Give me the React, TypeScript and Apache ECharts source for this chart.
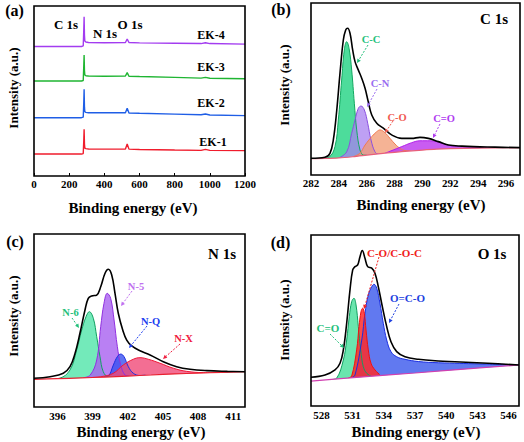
import React, { useEffect, useRef } from 'react';
import * as echarts from 'echarts';

const FONT = "'Liberation Serif', 'Times New Roman', serif";

// ---------- Panel (a): survey spectra ----------
const surveyEnergy = [0, 270, 280, 283, 285, 287, 289, 295, 310, 400, 520, 530, 540, 600, 800, 950, 975, 1000, 1200];
const ek4 = [76.2, 76.2, 76.5, 85.9, 93.7, 82.9, 79.4, 78.8, 78.5, 78.4, 78.5, 80.6, 78.5, 78.3, 78.1, 77.9, 78.4, 77.9, 77.6];
const ek3 = [55.9, 55.9, 56.2, 64.5, 71.2, 62.0, 59.4, 59.0, 58.8, 58.7, 58.8, 60.8, 58.7, 58.5, 58.0, 57.6, 58.0, 57.5, 57.2];
const ek2 = [34.3, 34.3, 34.6, 43.0, 51.0, 40.5, 37.8, 37.4, 37.2, 37.3, 37.2, 39.8, 37.1, 36.9, 36.4, 36.0, 36.5, 35.9, 35.5];
const ek1 = [12.9, 12.9, 13.2, 20.5, 27.5, 18.8, 16.4, 16.1, 15.9, 15.8, 15.9, 18.8, 15.8, 15.6, 15.3, 15.1, 15.7, 15.1, 14.9];
const surveyNames = ['EK-4', 'EK-3', 'EK-2', 'EK-1'];
const surveyTicks = [0, 200, 400, 600, 800, 1000, 1200];

// ---------- Panel (b): C 1s ----------
const c1sTicks = [282, 284, 286, 288, 290, 292, 294, 296];
const c1sEnvelope: number[][] = [[282, 9.7], [283, 10.3], [283.36, 12.6], [283.6, 20.3], [283.85, 37.8], [284.08, 59.1], [284.32, 78.5], [284.49, 84.3], [284.63, 85.3], [284.8, 82.4], [284.99, 72.7], [285.16, 65.9], [285.4, 61.0], [285.64, 56.2], [285.88, 50.4], [286.11, 42.6], [286.36, 34.9], [286.72, 30.1], [287.19, 27.2], [287.79, 23.3], [288.51, 21.3], [289.23, 21.3], [289.82, 21.9], [290.42, 21.3], [291.14, 19.4], [291.86, 17.4], [292.84, 16.8], [295.2, 16.2], [297, 15.9]];
const c1sBackground: number[][] = [[282, 9.5], [283, 9.6], [284, 9.9], [285, 10.6], [286, 11.5], [287, 12.4], [288, 13.2], [289, 13.9], [290, 14.5], [291, 15.0], [292, 15.3], [294, 15.6], [297, 15.9]];
const c1sCC: number[][] = [[282.8, 9.6], [283.3, 10.4], [283.72, 16.5], [283.96, 32.0], [284.2, 55.2], [284.39, 72.7], [284.56, 77.5], [284.73, 73.7], [284.92, 61.0], [285.11, 41.7], [285.28, 26.2], [285.52, 14.5], [285.75, 11.6], [286.0, 11.5]];
const c1sCN: number[][] = [[284.0, 9.9], [284.56, 13.4], [284.92, 24.2], [285.16, 32.0], [285.4, 38.8], [285.59, 40.1], [285.83, 37.8], [286.07, 30.1], [286.31, 20.3], [286.59, 13.5], [286.83, 12.2], [287.1, 12.3]];
const c1sCO: number[][] = [[285.0, 10.6], [285.5, 12.6], [285.88, 17.4], [286.36, 22.3], [286.72, 25.2], [286.95, 26.2], [287.31, 24.6], [287.67, 21.3], [288.03, 18.0], [288.39, 15.5], [288.75, 14.2], [289.2, 14.0]];
const c1sCdO: number[][] = [[287.3, 12.6], [288.51, 16.5], [289.23, 18.8], [289.82, 19.9], [290.54, 19.9], [291.26, 18.8], [292.1, 16.9], [292.84, 16.5], [294.04, 16.0], [295.57, 15.8], [297, 15.9]];

// ---------- Panel (c): N 1s ----------
const n1sTicks = [396, 399, 402, 405, 408, 411];
const n1sEnvelope: number[][] = [[394, 16.6], [395.37, 17.5], [396.5, 19.5], [397.07, 23.3], [397.5, 31.0], [397.92, 42.6], [398.35, 56.1], [398.63, 62.8], [398.92, 64.2], [399.35, 64.7], [399.69, 69.5], [400.06, 77.3], [400.34, 79.6], [400.63, 76.3], [400.91, 65.7], [401.19, 54.2], [401.57, 44.5], [401.91, 38.7], [402.34, 35.3], [403.04, 32.5], [403.9, 30.1], [405.03, 26.2], [406.17, 23.3], [407.31, 21.8], [408.74, 21.0], [410.5, 20.6], [412, 20.4]];
const n1sBackground: number[][] = [[394, 16.0], [396, 16.4], [398, 16.8], [400, 17.3], [402, 17.9], [404, 18.5], [406, 19.1], [408, 19.6], [410, 20.0], [412, 20.4]];
const n1sN6: number[][] = [[395.8, 16.4], [396.22, 16.7], [397.07, 21.4], [397.64, 32.9], [398.07, 44.5], [398.44, 52.2], [398.72, 55.1], [399.06, 51.3], [399.35, 40.6], [399.63, 29.1], [399.91, 20.4], [400.34, 17.5], [400.7, 17.5]];
const n1sN5: number[][] = [[398.2, 16.9], [398.8, 18.5], [399.35, 27.2], [399.69, 46.4], [399.97, 59.9], [400.25, 65.7], [400.54, 62.8], [400.83, 50.3], [401.11, 34.9], [401.4, 24.3], [401.76, 18.5], [402.1, 17.9]];
const n1sNQ: number[][] = [[400.0, 17.3], [400.34, 17.8], [400.77, 24.3], [401.11, 29.1], [401.4, 30.6], [401.68, 29.1], [402.05, 23.3], [402.47, 19.5], [403.04, 18.2], [403.5, 18.4]];
const n1sNX: number[][] = [[399.0, 17.1], [399.8, 17.6], [400.77, 19.5], [401.62, 24.3], [402.47, 27.6], [403.04, 28.5], [403.75, 27.6], [404.75, 25.3], [405.89, 22.4], [407.03, 20.6], [408.45, 19.9], [409.6, 20.0]];

// ---------- Panel (d): O 1s ----------
const o1sTicks = [528, 531, 534, 537, 540, 543, 546];
const o1sEnvelope: number[][] = [[527, 16.8], [528.35, 18.1], [529.31, 21.1], [529.79, 25.0], [530.11, 32.8], [530.43, 48.4], [530.75, 67.9], [531.01, 79.6], [531.23, 81.5], [531.49, 82.5], [531.71, 87.3], [531.93, 90.9], [532.19, 86.4], [532.45, 81.5], [532.84, 80.6], [533.15, 77.6], [533.47, 69.8], [533.86, 58.1], [534.28, 46.4], [534.69, 37.6], [535.24, 31.8], [536.04, 28.8], [537.32, 27.3], [539.24, 26.3], [540.85, 25.9], [544, 25.0], [547, 24.0]];
const o1sBackground: number[][] = [[527, 14.6], [532, 17.0], [537, 19.3], [542, 21.7], [547, 24.0]];
const o1sCdO: number[][] = [[529.0, 15.5], [529.47, 16.3], [530.11, 26.9], [530.43, 38.6], [530.68, 52.2], [530.91, 61.0], [531.13, 63.0], [531.33, 59.1], [531.55, 46.4], [531.78, 32.8], [532.03, 23.0], [532.36, 19.1], [532.8, 17.4]];
const o1sCO: number[][] = [[530.6, 16.4], [530.91, 17.5], [531.39, 32.8], [531.62, 46.4], [531.81, 55.2], [531.97, 57.2], [532.13, 54.2], [532.29, 44.5], [532.51, 32.8], [532.77, 25.0], [533.15, 21.1], [533.6, 18.4]];
const o1sOCO: number[][] = [[530.9, 16.6], [531.23, 18.1], [531.88, 38.6], [532.19, 54.2], [532.51, 64.9], [532.84, 69.8], [533.06, 71.2], [533.32, 68.9], [533.63, 60.1], [533.95, 48.4], [534.28, 38.6], [534.69, 31.8], [535.24, 28.8], [536.04, 27.3], [537.32, 26.0], [539.24, 25.3], [543.25, 24.6], [547, 24.0]];

// ---------- layout ----------
const GRIDS = [
  { left: 34, top: 6, width: 211, height: 170 },
  { left: 311, top: 3, width: 209, height: 172 },
  { left: 34, top: 234, width: 211, height: 173 },
  { left: 311, top: 235, width: 208, height: 171 },
];
const X_RANGES = [[0, 1200], [282, 297], [394, 412], [527, 547]];
const X_TICKS = [surveyTicks, c1sTicks, n1sTicks, o1sTicks];
const LABEL_MARGIN = [2, 2, 3, 3];

function txt(text: string, x: number, y: number, size: number, color = '#000', rotate = 0) {
  return {
    type: 'text', x, y, rotation: rotate, z: 110,
    style: { text, fill: color, fontSize: size, fontWeight: 'bold', fontFamily: FONT, align: 'center', verticalAlign: 'middle' },
  };
}

function arrow(x1: number, y1: number, x2: number, y2: number, color: string) {
  const a = Math.atan2(y2 - y1, x2 - x1);
  const s = 4;
  const bx = x2 - s * Math.cos(a), by = y2 - s * Math.sin(a);
  const ox = 0.5 * s * Math.sin(a), oy = 0.5 * s * Math.cos(a);
  return [
    { type: 'line', z: 110, shape: { x1, y1, x2: bx, y2: by }, style: { stroke: color, lineWidth: 1, lineDash: [2, 1.5] } },
    { type: 'polygon', z: 110, shape: { points: [[x2, y2], [bx + ox, by - oy], [bx - ox, by + oy]] }, style: { fill: color } },
  ];
}

function comp(idx: number, data: number[][], edge: string, fill: string, opacity: number) {
  return {
    type: 'line', xAxisIndex: idx, yAxisIndex: idx, data, smooth: 0.4, symbol: 'none', z: 2,
    lineStyle: { color: edge, width: 1 }, areaStyle: { color: fill, opacity },
  };
}
function background(idx: number, data: number[][], color: string) {
  return {
    type: 'line', xAxisIndex: idx, yAxisIndex: idx, data, smooth: 0.3, symbol: 'none', z: 3,
    lineStyle: { color, width: 1.2 }, areaStyle: { color: '#ffffff', opacity: 1 },
  };
}
function envelope(idx: number, data: number[][]) {
  return {
    type: 'line', xAxisIndex: idx, yAxisIndex: idx, data, smooth: 0.4, symbol: 'none', z: 4,
    lineStyle: { color: '#000', width: 1.6 },
  };
}

export default function App() {
  const ref = useRef<HTMLDivElement>(null);
  useEffect(() => {
    if (!ref.current) return;
    const chart = echarts.init(ref.current, null, { renderer: 'svg' });
    const surveyColors = ['#a33cf0', '#1fb532', '#1f5ee6', '#f01c2c'];
    const surveyData = [ek4, ek3, ek2, ek1];

    const series: any[] = [];
    surveyData.forEach((vals, i) => {
      series.push({
        type: 'line', xAxisIndex: 0, yAxisIndex: 0, symbol: 'none', z: 2,
        name: surveyNames[i],
        data: surveyEnergy.map((e, j) => [e, vals[j]]),
        lineStyle: { color: surveyColors[i], width: 1.4 },
      });
    });
    // (b)
    series.push(comp(1, c1sCC, '#12a860', '#3ad890', 0.9));
    series.push(comp(1, c1sCN, '#8a50e0', '#a880f0', 0.75));
    series.push(comp(1, c1sCO, '#f07a50', '#f29a72', 0.75));
    series.push(comp(1, c1sCdO, '#b020e8', '#c040f0', 0.85));
    series.push(background(1, c1sBackground, '#e8607a'));
    series.push(envelope(1, c1sEnvelope));
    // (c)
    series.push(comp(2, n1sN6, '#10a060', '#5ae6ae', 0.85));
    series.push(comp(2, n1sN5, '#9030e0', '#a860f0', 0.8));
    series.push(comp(2, n1sNQ, '#1a2ee0', '#3850f0', 0.8));
    series.push(comp(2, n1sNX, '#f01838', '#f04a78', 0.8));
    series.push(background(2, n1sBackground, '#e82030'));
    series.push(envelope(2, n1sEnvelope));
    // (d)
    series.push(comp(3, o1sCdO, '#10a060', '#50e0a0', 0.85));
    series.push(comp(3, o1sOCO, '#1a2ee0', '#3a58ec', 0.8));
    series.push(comp(3, o1sCO, '#f01010', '#ff2a2a', 0.85));
    series.push(background(3, o1sBackground, '#d040b0'));
    series.push(envelope(3, o1sEnvelope));

    const graphics: any[] = [];
    GRIDS.forEach((g) => {
      graphics.push({ type: 'rect', z: 120, shape: { x: g.left, y: g.top, width: g.width, height: g.height }, style: { fill: 'none', stroke: '#000', lineWidth: 1.6 } });
    });
    // panel letters
    graphics.push(txt('(a)', 14.5, 10, 16));
    graphics.push(txt('(b)', 281, 9, 16));
    graphics.push(txt('(c)', 15, 241, 16));
    graphics.push(txt('(d)', 280.5, 242, 16));
    // titles inside plots
    graphics.push(txt('C 1s', 494, 19, 15));
    graphics.push(txt('N 1s', 222, 254, 15));
    graphics.push(txt('O 1s', 492, 254, 15));
    // axis titles
    [[133, 208], [421, 205], [141, 432], [416, 432]].forEach(([x, y]) => graphics.push(txt('Binding energy (eV)', x, y, 15)));
    [[13.5, 88], [284.5, 85], [13.5, 316], [284.5, 320]].forEach(([x, y]) => graphics.push(txt('Intensity (a.u.)', x, y, 13, '#000', Math.PI / 2)));
    // (a) annotations
    graphics.push(txt('C 1s', 66, 24, 13));
    graphics.push(txt('N 1s', 105, 33, 13));
    graphics.push(txt('O 1s', 130, 24, 13));
    [[211, 35], [211, 67], [211, 103], [213, 142]].forEach(([x, y], i) => graphics.push(txt(surveyNames[i], x, y, 12)));
    // (b) annotations
    graphics.push(txt('C-C', 371, 39, 10.5, '#22c07a'));
    graphics.push(txt('C-N', 380, 83, 10.5, '#9a6cf0'));
    graphics.push(txt('C-O', 397, 117, 10.5, '#f05a50'));
    graphics.push(txt('C=O', 444, 118, 10.5, '#b03cf0'));
    graphics.push(...arrow(368, 45, 357, 63, '#22c07a'));
    graphics.push(...arrow(377, 89, 367, 107, '#9a6cf0'));
    graphics.push(...arrow(393, 121, 385, 133, '#f05a50'));
    graphics.push(...arrow(440, 124, 433, 138, '#b03cf0'));
    // (c) annotations
    graphics.push(txt('N-6', 70.5, 312.5, 10.5, '#22c07a'));
    graphics.push(txt('N-5', 136, 286, 10.5, '#c070f0'));
    graphics.push(txt('N-Q', 150.5, 321, 10.5, '#2040f0'));
    graphics.push(txt('N-X', 183.5, 338.5, 10.5, '#f02040'));
    graphics.push(...arrow(72, 318, 79, 328, '#22c07a'));
    graphics.push(...arrow(132, 291, 121, 306, '#c070f0'));
    graphics.push(...arrow(147, 326, 129, 348, '#2040f0'));
    graphics.push(...arrow(180, 344, 163, 359, '#f02040'));
    // (d) annotations
    graphics.push(txt('C-O/C-O-C', 394.5, 253, 11, '#f02020'));
    graphics.push(txt('O=C-O', 407.5, 298, 11, '#2040e0'));
    graphics.push(txt('C=O', 328, 328, 11, '#22c07a'));
    graphics.push(...arrow(379, 257, 364, 309, '#f02020'));
    graphics.push(...arrow(399, 304, 389, 323, '#2040e0'));
    graphics.push(...arrow(330, 334, 344, 348, '#22c07a'));

    chart.setOption({
      animation: false,
      backgroundColor: '#ffffff',
      grid: GRIDS.map((g) => ({ ...g, containLabel: false })),
      xAxis: GRIDS.map((_, i) => ({
        type: 'value', gridIndex: i, min: X_RANGES[i][0], max: X_RANGES[i][1],
        splitLine: { show: false },
        axisLine: { show: false },
        axisTick: { show: true, inside: true, length: 3, customValues: X_TICKS[i], lineStyle: { color: '#000', width: 1 } },
        axisLabel: {
          customValues: X_TICKS[i], color: '#000', fontFamily: FONT, fontWeight: 'bold', fontSize: 11, margin: LABEL_MARGIN[i],
          formatter: (v: number) => String(v),
        },
      })),
      yAxis: GRIDS.map((_, i) => ({
        type: 'value', gridIndex: i, min: 0, max: 100,
        splitLine: { show: false }, axisLine: { show: false }, axisTick: { show: false }, axisLabel: { show: false },
      })),
      series,
      graphic: { elements: graphics },
    });
    return () => chart.dispose();
  }, []);
  return <div ref={ref} style={{ position: 'absolute', left: 0, top: 0, width: 524, height: 442, background: '#fff' }} />;
}
